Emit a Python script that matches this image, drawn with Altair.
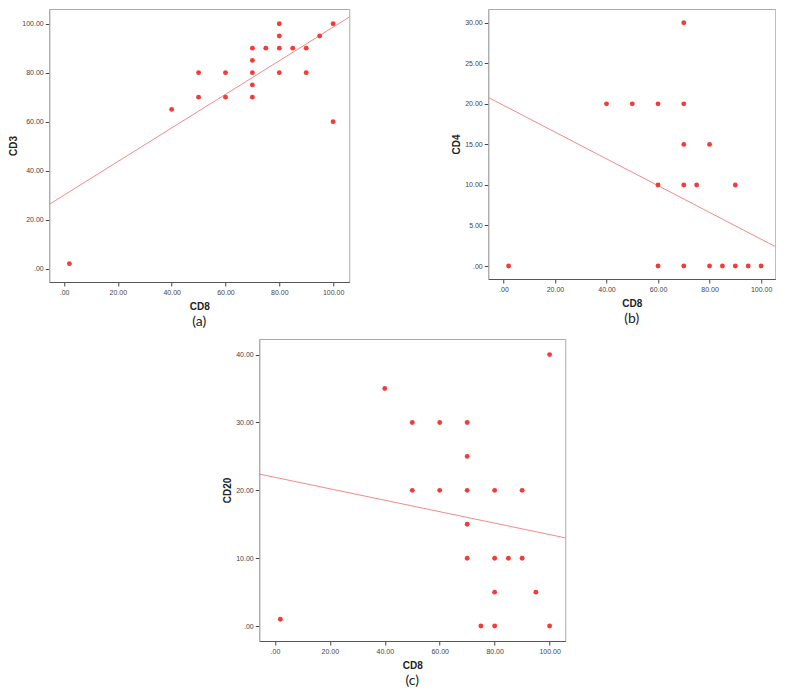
import altair as alt
import pandas as pd

# Panel (a): CD3 vs CD8
cd8_a = [2, 40, 50, 50, 60, 60, 70, 70, 70, 70, 70, 75, 80, 80, 80, 80, 85, 90, 90, 95, 100, 100]
cd3 = [2, 65, 80, 70, 80, 70, 90, 85, 80, 75, 70, 90, 100, 95, 90, 80, 90, 90, 80, 95, 100, 60]
fit_a_x = [-5.5, 106]
fit_a_y = [26.2, 102.7]

# Panel (b): CD4 vs CD8
cd8_b = [2, 40, 50, 60, 70, 70, 70, 80, 60, 70, 75, 90, 60, 70, 80, 85, 90, 95, 100]
cd4 = [0, 20, 20, 20, 20, 30, 15, 15, 10, 10, 10, 10, 0, 0, 0, 0, 0, 0, 0]
fit_b_x = [-5.9, 105.5]
fit_b_y = [20.8, 2.4]

# Panel (c): CD20 vs CD8
cd8_c = [2, 40, 50, 60, 70, 70, 50, 60, 70, 80, 90, 70, 70, 80, 85, 90, 80, 95, 75, 80, 100, 100]
cd20 = [1, 35, 30, 30, 30, 25, 20, 20, 20, 20, 20, 15, 10, 10, 10, 10, 5, 5, 0, 0, 0, 40]
fit_c_x = [-5.7, 105.7]
fit_c_y = [22.4, 13.0]

x_ticks = [0, 20, 40, 60, 80, 100]
yt_a = [0, 20, 40, 60, 80, 100]
yt_b = [0, 5, 10, 15, 20, 25, 30]
yt_c = [0, 10, 20, 30, 40]

RED = "#f23c3c"
LINE = "#f28a8a"
LBL = "datum.value == 0 ? '.00' : format(datum.value, '.2f')"


def panel(xs, ys, fx, fy, xdom, ydom, yticks, ytitle, label, w, h):
    pts = pd.DataFrame({"x": xs, "y": ys})
    fit = pd.DataFrame({"x": fx, "y": fy})
    xs_ = alt.Scale(domain=xdom, nice=False, zero=False)
    ys_ = alt.Scale(domain=ydom, nice=False, zero=False)
    xaxis = alt.Axis(values=x_ticks, labelExpr=LBL, title="CD8", grid=False,
                     domainColor="#555", titlePadding=6)
    yaxis = alt.Axis(values=yticks, labelExpr=LBL, title=ytitle, grid=False,
                     domainColor="#aaa", titlePadding=3)
    line = alt.Chart(fit).mark_line(color=LINE, strokeWidth=1, clip=True).encode(
        x=alt.X("x:Q", scale=xs_, axis=xaxis),
        y=alt.Y("y:Q", scale=ys_, axis=yaxis),
    )
    points = alt.Chart(pts).mark_circle(size=24, color=RED, opacity=1).encode(
        x=alt.X("x:Q", scale=xs_, axis=xaxis),
        y=alt.Y("y:Q", scale=ys_, axis=yaxis),
    )
    return alt.layer(line, points).properties(
        width=w, height=h,
        title=alt.TitleParams(label, orient="bottom", font="Lato", fontSize=14,
                              fontWeight="normal", color="#222", offset=4),
    )


pa = panel(cd8_a, cd3, fit_a_x, fit_a_y, [-5.5, 106], [-5.5, 106], yt_a, "CD3", "(a)", 300, 273)
pb = panel(cd8_b, cd4, fit_b_x, fit_b_y, [-5.9, 105.5], [-1.6, 31.7], yt_b, "CD4", "(b)", 287, 270)
pc = panel(cd8_c, cd20, fit_c_x, fit_c_y, [-5.7, 105.7], [-2.2, 42.3], yt_c, "CD20", "(c)", 306, 302)

top = alt.hconcat(pa, pb, spacing=100)
chart = alt.vconcat(top, pc, spacing=8, center=True).properties(
    padding=0
).configure_view(stroke="#aaa", strokeWidth=1).configure_axis(
    labelFont="Liberation Sans", labelFontSize=7, labelColor="#444",
    tickColor="#444", tickSize=4, labelPadding=2,
    titleFont="Liberation Sans", titleFontSize=10, titleFontWeight="bold", titleColor="#222",
)

chart.save("out.html", embed_options={"renderer": "svg", "actions": False})
